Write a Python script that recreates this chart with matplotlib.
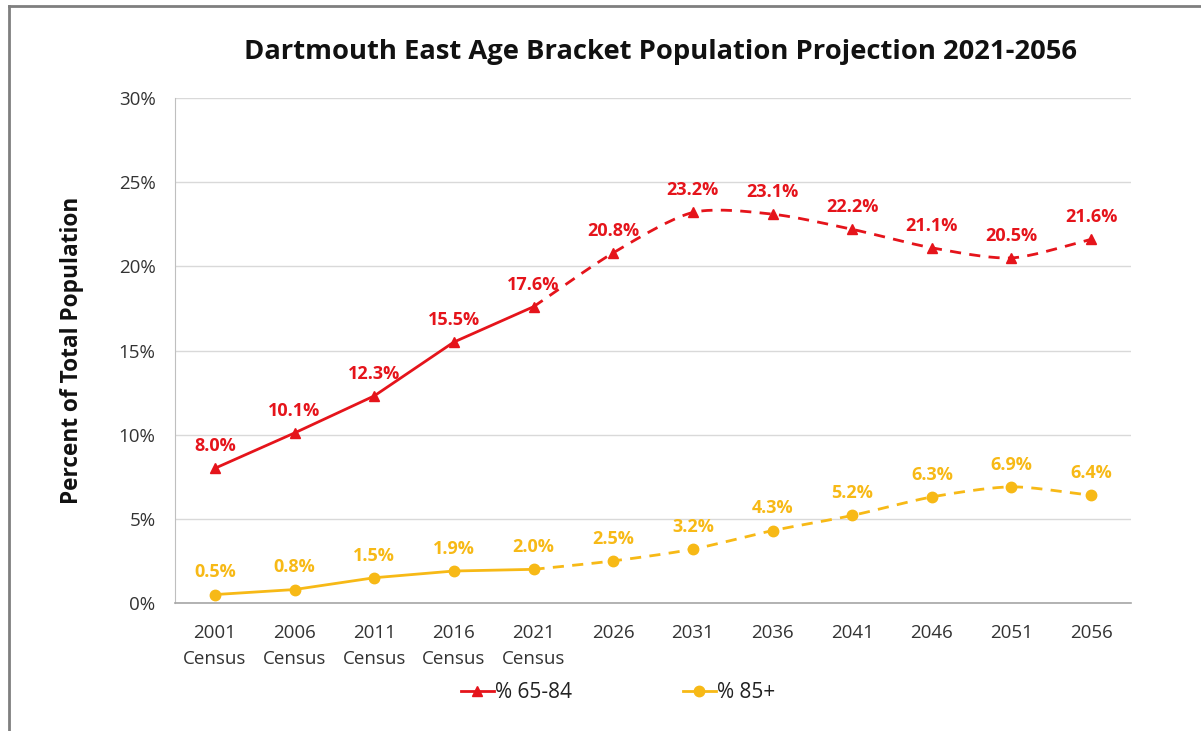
import numpy as np
import matplotlib
matplotlib.use("Agg")
import matplotlib.pyplot as plt
from matplotlib.lines import Line2D
from matplotlib.ticker import MultipleLocator, FuncFormatter

plt.rcParams['font.family'] = ['Open Sans', 'DejaVu Sans']

# ---- data ----
categories = ["2001\nCensus", "2006\nCensus", "2011\nCensus", "2016\nCensus", "2021\nCensus",
              "2026", "2031", "2036", "2041", "2046", "2051", "2056"]
pct_65_84 = [8.0, 10.1, 12.3, 15.5, 17.6, 20.8, 23.2, 23.1, 22.2, 21.1, 20.5, 21.6]
pct_85_plus = [0.5, 0.8, 1.5, 1.9, 2.0, 2.5, 3.2, 4.3, 5.2, 6.3, 6.9, 6.4]
n_census = 5  # first five points are census (solid line); rest are projections (dashed)
series_names = ["% 65-84", "% 85+"]

RED = "#E5141B"
YEL = "#F7B916"


def smooth(xs, ys, n=20, k=0.4):
    """Cardinal-spline rendering of a line through the given points (Excel-style smoothing)."""
    xs = np.asarray(xs, float)
    ys = np.asarray(ys, float)
    px = np.concatenate([[2 * xs[0] - xs[1]], xs, [2 * xs[-1] - xs[-2]]])
    py = np.concatenate([[2 * ys[0] - ys[1]], ys, [2 * ys[-1] - ys[-2]]])
    ox, oy = [], []
    for i in range(1, len(px) - 2):
        t = np.linspace(0, 1, n, endpoint=(i == len(px) - 3))
        h00 = 2 * t ** 3 - 3 * t ** 2 + 1
        h10 = t ** 3 - 2 * t ** 2 + t
        h01 = -2 * t ** 3 + 3 * t ** 2
        h11 = t ** 3 - t ** 2
        for arr, out in ((px, ox), (py, oy)):
            p0, p1, p2, p3 = arr[i - 1], arr[i], arr[i + 1], arr[i + 2]
            m1 = k * (p2 - p0)
            m2 = k * (p3 - p1)
            out.extend(h00 * p1 + h10 * m1 + h01 * p2 + h11 * m2)
    return np.array(ox), np.array(oy)


fig = plt.figure(figsize=(12.01, 7.31), dpi=100)
ax = fig.add_axes([175 / 1201, 1 - 603 / 731, (1131 - 175) / 1201, (603 - 98) / 731])

x = np.arange(len(categories))

for vals, col, mk, ms in ((pct_65_84, RED, '^', 7.5), (pct_85_plus, YEL, 'o', 7.5)):
    # census part, solid
    ax.plot(x[:n_census], vals[:n_census], color=col, lw=2.0, solid_capstyle='round', zorder=3)
    # projection part, dashed & smoothed
    sx, sy = smooth(x[n_census - 1:], vals[n_census - 1:])
    ax.plot(sx, sy, color=col, lw=2.0, linestyle=(0, (4, 3)), zorder=3)
    ax.plot(x, vals, linestyle='none', marker=mk, color=col, markersize=ms, zorder=4)
    for xi, v in zip(x, vals):
        ax.annotate(f"{v:.1f}%", (xi, v), xytext=(0, 16), textcoords='offset points',
                    ha='center', va='center', color=col, fontsize=13, fontweight='bold')

ax.set_xlim(-0.5, len(categories) - 0.5)
ax.set_ylim(0, 30)
ax.yaxis.set_major_locator(MultipleLocator(5))
ax.yaxis.set_major_formatter(FuncFormatter(lambda v, p: f"{v:.0f}%"))
ax.set_xticks(x)
ax.set_xticklabels(categories, linespacing=1.6)
ax.tick_params(axis='both', length=0, labelsize=13.5, labelcolor='#333333')
ax.tick_params(axis='y', pad=14)
ax.tick_params(axis='x', pad=15)
ax.grid(axis='y', color='#D9D9D9', lw=1.0)
ax.set_axisbelow(True)
for s in ('top', 'right'):
    ax.spines[s].set_visible(False)
ax.spines['left'].set_color('#BFBFBF')
ax.spines['bottom'].set_color('#A6A6A6')
ax.spines['bottom'].set_linewidth(1.2)

fig.text(660 / 1201, 1 - 52 / 731, "Dartmouth East Age Bracket Population Projection 2021-2056",
         ha='center', va='center', fontsize=19.7, fontweight='bold', color='#111111')
fig.text(72 / 1201, 1 - 350 / 731, "Percent of Total Population", rotation=90,
         ha='center', va='center', fontsize=16.3, fontweight='bold', color='#111111')

handles = [Line2D([0], [0], color=RED, lw=2, marker='^', markersize=7.5),
           Line2D([0], [0], color=YEL, lw=2, marker='o', markersize=7.5)]
fig.legend(handles, series_names, loc='center', bbox_to_anchor=(618 / 1201, 1 - 693 / 731),
           ncol=2, frameon=False, fontsize=15, handlelength=1.6, handletextpad=0.05,
           columnspacing=5.3, labelcolor='#222222')

# outer frame (partially cropped in the reference)
fig.add_artist(Line2D([9 / 1201, 9 / 1201], [0, 1 - 6 / 731], color='#7F7F7F', lw=2.0))
fig.add_artist(Line2D([9 / 1201, 1], [1 - 6 / 731, 1 - 6 / 731], color='#7F7F7F', lw=2.0))

fig.savefig("out.png", dpi=100)
